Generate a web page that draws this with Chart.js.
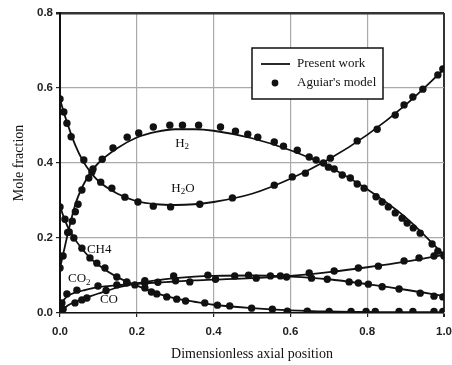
<!DOCTYPE html>
<html>
<head>
<meta charset="utf-8">
<script src="https://cdn.jsdelivr.net/npm/chart.js@4.4.0/dist/chart.umd.min.js"></script>
<style>
  html, body { margin: 0; padding: 0; background: #fff; }
</style>
</head>
<body>
<canvas id="grafico" width="452" height="365"></canvas>
<script>
// --------------- Dados ------------------

const xTicks = [0, 0.2, 0.4, 0.6, 0.8, 1.0];
const yTicks = [0, 0.2, 0.4, 0.6, 0.8];

// Present work (curvas)
const xLinha = [0, 0.01, 0.02, 0.04, 0.06, 0.08, 0.1, 0.15, 0.2, 0.25, 0.3, 0.35, 0.4, 0.5, 0.6, 0.7, 0.8, 0.9, 1.0];
const h2Linha = [0.12, 0.165, 0.21, 0.29, 0.34, 0.375, 0.4, 0.44, 0.468, 0.483, 0.49, 0.49, 0.486, 0.466, 0.434, 0.39, 0.33, 0.255, 0.155];
const h2oLinha = [0.57, 0.535, 0.503, 0.447, 0.405, 0.375, 0.352, 0.318, 0.298, 0.29, 0.288, 0.29, 0.296, 0.318, 0.358, 0.41, 0.475, 0.555, 0.65];
const ch4Linha = [0.285, 0.255, 0.23, 0.195, 0.168, 0.145, 0.128, 0.095, 0.073, 0.053, 0.039, 0.03, 0.022, 0.013, 0.007, 0.004, 0.003, 0.002, 0.002];
const co2Linha = [0.02, 0.035, 0.045, 0.055, 0.06, 0.065, 0.069, 0.074, 0.078, 0.081, 0.084, 0.087, 0.089, 0.093, 0.099, 0.109, 0.122, 0.137, 0.155];
const coLinha = [0.005, 0.012, 0.02, 0.03, 0.037, 0.045, 0.052, 0.068, 0.079, 0.087, 0.093, 0.097, 0.099, 0.1, 0.097, 0.09, 0.077, 0.062, 0.045];

// Aguiar's model (pontos)
const h2PtsX = [0, 0.008, 0.02, 0.032, 0.04, 0.047, 0.057, 0.075, 0.086, 0.11, 0.138, 0.175, 0.205, 0.243, 0.286, 0.319, 0.361, 0.418, 0.457, 0.489, 0.515, 0.558, 0.582, 0.618, 0.649, 0.667, 0.686, 0.699, 0.714, 0.735, 0.756, 0.774, 0.792, 0.823, 0.839, 0.855, 0.873, 0.891, 0.904, 0.92, 0.938, 0.969, 0.984, 1.0];
const h2PtsY = [0.12, 0.152, 0.215, 0.245, 0.27, 0.29, 0.328, 0.36, 0.384, 0.41, 0.44, 0.469, 0.48, 0.496, 0.501, 0.501, 0.501, 0.496, 0.485, 0.477, 0.469, 0.456, 0.445, 0.434, 0.416, 0.408, 0.4, 0.389, 0.384, 0.368, 0.36, 0.344, 0.333, 0.31, 0.296, 0.283, 0.267, 0.253, 0.24, 0.227, 0.213, 0.184, 0.165, 0.155];

const h2oPtsX = [0, 0.01, 0.018, 0.029, 0.062, 0.083, 0.106, 0.135, 0.169, 0.203, 0.243, 0.288, 0.364, 0.449, 0.558, 0.605, 0.639, 0.704, 0.774, 0.826, 0.873, 0.896, 0.919, 0.945, 0.984, 0.997];
const h2oPtsY = [0.571, 0.536, 0.506, 0.47, 0.408, 0.376, 0.349, 0.333, 0.309, 0.296, 0.285, 0.283, 0.29, 0.307, 0.341, 0.363, 0.373, 0.413, 0.459, 0.49, 0.528, 0.555, 0.576, 0.597, 0.635, 0.651];

const ch4PtsX = [0, 0.013, 0.024, 0.036, 0.057, 0.078, 0.096, 0.117, 0.148, 0.174, 0.195, 0.221, 0.238, 0.252, 0.278, 0.304, 0.327, 0.377, 0.41, 0.442, 0.499, 0.553, 0.592, 0.644, 0.701, 0.758, 0.797, 0.821, 0.883, 0.919, 0.974, 0.997];
const ch4PtsY = [0.283, 0.25, 0.216, 0.2, 0.173, 0.147, 0.133, 0.12, 0.096, 0.083, 0.075, 0.067, 0.056, 0.051, 0.043, 0.037, 0.032, 0.027, 0.021, 0.019, 0.013, 0.01, 0.005, 0.005, 0.004, 0.004, 0.004, 0.004, 0.004, 0.004, 0.004, 0.004];

const co2PtsX = [0.005, 0.018, 0.044, 0.099, 0.148, 0.221, 0.255, 0.301, 0.338, 0.405, 0.511, 0.59, 0.649, 0.714, 0.777, 0.829, 0.896, 0.935, 0.974, 1.0];
const co2PtsY = [0.027, 0.051, 0.061, 0.072, 0.075, 0.08, 0.082, 0.086, 0.083, 0.09, 0.093, 0.096, 0.107, 0.112, 0.12, 0.125, 0.139, 0.147, 0.152, 0.152];

const coPtsX = [0, 0.008, 0.039, 0.057, 0.07, 0.12, 0.174, 0.221, 0.296, 0.385, 0.455, 0.491, 0.548, 0.574, 0.655, 0.696, 0.753, 0.777, 0.803, 0.839, 0.883, 0.938, 0.974, 0.997];
const coPtsY = [0.005, 0.01, 0.027, 0.035, 0.04, 0.06, 0.08, 0.086, 0.099, 0.101, 0.099, 0.101, 0.099, 0.099, 0.093, 0.09, 0.083, 0.08, 0.077, 0.07, 0.064, 0.053, 0.045, 0.043];

// rótulos das espécies: [texto, índice subscrito (-1 = nenhum), x, y]
const rotulos = [
  ["H2", 1, 0.3, 0.453],
  ["H2O", 1, 0.29, 0.333],
  ["CH4", -1, 0.07, 0.17],
  ["CO2", 2, 0.021, 0.091],
  ["CO", -1, 0.104, 0.037],
];

// --------------- Grafico ------------------

function pares(xs, ys) {
  return xs.map((x, i) => ({ x: x, y: ys[i] }));
}

function linha(ys) {
  return {
    data: pares(xLinha, ys),
    showLine: true,
    borderColor: "#111",
    borderWidth: 1.8,
    pointRadius: 0,
    cubicInterpolationMode: "monotone",
    order: 2,
  };
}

function pontos(xs, ys) {
  return {
    data: pares(xs, ys),
    showLine: false,
    pointRadius: 3.7,
    pointBackgroundColor: "#111",
    pointBorderColor: "#111",
    pointBorderWidth: 0,
    order: 1,
  };
}

function desenhaQuimica(ctx, texto, sub, x, y) {
  ctx.textBaseline = "middle";
  ctx.textAlign = "left";
  let cx = x;
  for (let i = 0; i < texto.length; i++) {
    const c = texto[i];
    if (i === sub) {
      ctx.font = "9px 'Liberation Serif', serif";
      ctx.fillText(c, cx, y + 4);
    } else {
      ctx.font = "13px 'Liberation Serif', serif";
      ctx.fillText(c, cx, y);
    }
    cx += ctx.measureText(c).width;
  }
}

const extras = {
  id: "extras",
  afterDatasetsDraw(chart) {
    const ctx = chart.ctx;
    const sx = chart.scales.x;
    const sy = chart.scales.y;
    ctx.save();
    ctx.fillStyle = "#111";
    rotulos.forEach((r) => {
      desenhaQuimica(ctx, r[0], r[1], sx.getPixelForValue(r[2]), sy.getPixelForValue(r[3]));
    });

    // legenda
    const lx = 252, ly = 48, lw = 131, lh = 51;
    ctx.fillStyle = "#fff";
    ctx.fillRect(lx, ly, lw, lh);
    ctx.strokeStyle = "#111";
    ctx.lineWidth = 1.5;
    ctx.strokeRect(lx, ly, lw, lh);
    ctx.beginPath();
    ctx.moveTo(lx + 9, ly + 16);
    ctx.lineTo(lx + 38, ly + 16);
    ctx.lineWidth = 1.8;
    ctx.stroke();
    ctx.fillStyle = "#111";
    ctx.beginPath();
    ctx.arc(lx + 23, ly + 35, 3.4, 0, Math.PI * 2);
    ctx.fill();
    ctx.font = "13px 'Liberation Serif', serif";
    ctx.textBaseline = "middle";
    ctx.textAlign = "left";
    ctx.fillText("Present work", lx + 45, ly + 16);
    ctx.fillText("Aguiar's model", lx + 45, ly + 35);
    ctx.restore();
  },
};

const ctx = document.getElementById("grafico").getContext("2d");

new Chart(ctx, {
  type: "scatter",
  data: {
    datasets: [
      linha(h2Linha),
      linha(h2oLinha),
      linha(ch4Linha),
      linha(co2Linha),
      linha(coLinha),
      pontos(h2PtsX, h2PtsY),
      pontos(h2oPtsX, h2oPtsY),
      pontos(ch4PtsX, ch4PtsY),
      pontos(co2PtsX, co2PtsY),
      pontos(coPtsX, coPtsY),
    ],
  },
  options: {
    responsive: false,
    animation: false,
    layout: { padding: { top: 13, right: 8, left: 0, bottom: 0 } },
    plugins: { legend: { display: false }, tooltip: { enabled: false } },
    scales: {
      x: {
        type: "linear",
        min: 0,
        max: 1,
        afterFit: (s) => {
          s.height = 52;
          s.paddingLeft = 0;
          s.paddingRight = 0;
        },
        afterBuildTicks: (s) => { s.ticks = xTicks.map((v) => ({ value: v })); },
        ticks: {
          color: "#222",
          padding: 8,
          font: { family: "'Liberation Sans', Arial", size: 11.5, weight: "bold" },
          callback: (v) => v.toFixed(1),
        },
        grid: {
          color: (c) => (c.tick && c.tick.value === 1 ? "#333" : "#aaa"),
          lineWidth: (c) => (c.tick && c.tick.value === 1 ? 2 : 1.2),
          tickColor: "#222",
          tickLength: 4,
        },
        border: { color: "#111", width: 1.5 },
        title: {
          display: true,
          text: "Dimensionless axial position",
          color: "#111",
          padding: { top: 4, bottom: 2 },
          font: { family: "'Liberation Serif', serif", size: 14 },
        },
      },
      y: {
        min: 0,
        max: 0.8,
        afterFit: (s) => {
          s.width = 60;
          s.paddingTop = 0;
          s.paddingBottom = 0;
        },
        afterBuildTicks: (s) => { s.ticks = yTicks.map((v) => ({ value: v })); },
        ticks: {
          color: "#222",
          padding: 3,
          font: { family: "'Liberation Sans', Arial", size: 11.5, weight: "bold" },
          callback: (v) => v.toFixed(1),
        },
        grid: {
          color: (c) => (c.tick && Math.abs(c.tick.value - 0.8) < 1e-6 ? "#333" : "#aaa"),
          lineWidth: (c) => (c.tick && Math.abs(c.tick.value - 0.8) < 1e-6 ? 2.5 : 1.2),
          tickColor: "#222",
          tickLength: 4,
        },
        border: { color: "#111", width: 2 },
        title: {
          display: true,
          text: "Mole fraction",
          color: "#111",
          padding: { top: 11, bottom: 2 },
          font: { family: "'Liberation Serif', serif", size: 14 },
        },
      },
    },
  },
  plugins: [extras],
});
</script>
</body>
</html>
